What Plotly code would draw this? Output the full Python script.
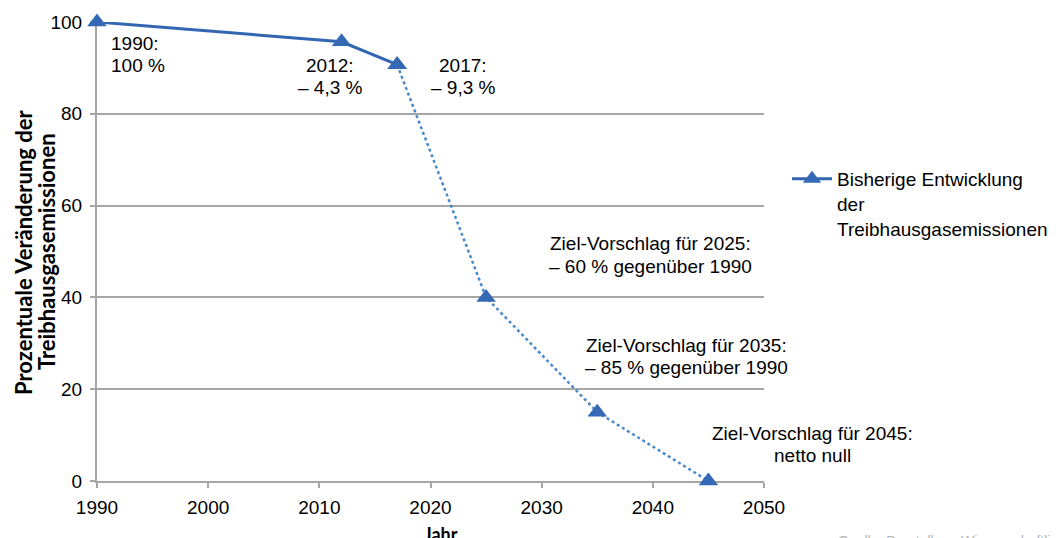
import plotly.graph_objects as go

years_hist = [1990, 2012, 2017]
values_hist = [100, 95.7, 90.7]
years_target = [2017, 2025, 2035, 2045]
values_target = [90.7, 40, 15, 0]
legend_name = "Bisherige Entwicklung<br>der<br>Treibhausgasemissionen"
x_ticks = [1990, 2000, 2010, 2020, 2030, 2040, 2050]
y_ticks = [0, 20, 40, 60, 80, 100]

# page offset of the plotly div (default body margin)
OFF = 8
# plot-area geometry in page pixels
L, R, T, B = 97, 764, 22, 481
PW, PH = 1060, 538
W, H = PW - OFF, PH - OFF

def pap_x(px):
    return (px - L) / (R - L)

def pap_y(py):
    return (B - py) / (B - T)

# text lines in page pixels: (px, py, text, xanchor)
label_lines = [
    (109, 44, "1990:", "left"),
    (109, 66, "100 %", "left"),
    (330, 65, "2012:", "center"),
    (330, 87, "– 4,3 %", "center"),
    (463, 65, "2017:", "center"),
    (463, 87, "– 9,3 %", "center"),
    (650, 244, "Ziel-Vorschlag für 2025:", "center"),
    (650, 266, "– 60 % gegenüber 1990", "center"),
    (686, 345, "Ziel-Vorschlag für 2035:", "center"),
    (686, 367, "– 85 % gegenüber 1990", "center"),
    (812, 433, "Ziel-Vorschlag für 2045:", "center"),
    (812, 455, "netto null", "center"),
]

LINE = "#3366b2"
DOT = "#4a88cc"
MARK = "#3568b5"
GRID = "#a6a6a6"
FONT = "Liberation Sans, Arial, sans-serif"
BFONT = "Lato, Open Sans, sans-serif"
FS = 19

fig = go.Figure()
fig.add_trace(go.Scatter(
    x=years_target, y=values_target, mode="lines+markers",
    line=dict(color=DOT, width=2.5, dash="dot"),
    marker=dict(symbol="triangle-up", size=17, color=MARK),
    showlegend=False, cliponaxis=False,
))
fig.add_trace(go.Scatter(
    x=years_hist, y=values_hist, mode="lines+markers", name=legend_name,
    line=dict(color=LINE, width=3),
    marker=dict(symbol="triangle-up", size=17, color=MARK),
    cliponaxis=False,
))

for px, py, t, xa in label_lines:
    fig.add_annotation(x=pap_x(px), y=pap_y(py), xref="paper", yref="paper", text=t,
                       showarrow=False, xanchor=xa, yanchor="middle",
                       font=dict(family=FONT, size=FS, color="#000000"))

for px, t in [(23, "<b>Prozentuale Veränderung der</b>"), (46, "<b>Treibhausgasemissionen</b>")]:
    fig.add_annotation(text=t, xref="paper", yref="paper", x=pap_x(px), y=pap_y(252),
                       textangle=-90, showarrow=False, xanchor="center", yanchor="middle",
                       font=dict(family=BFONT, size=22, color="#000000"))
fig.add_annotation(text="<b>Jahr</b>", xref="paper", yref="paper",
                   x=pap_x(441), y=pap_y(534), showarrow=False,
                   xanchor="center", yanchor="middle",
                   font=dict(family=BFONT, size=18, color="#000000"))
fig.add_annotation(text="Quelle: Darstellung Wissenschaftliche Dienste", xref="paper", yref="paper",
                   x=pap_x(836), y=pap_y(541), showarrow=False,
                   xanchor="left", yanchor="middle",
                   font=dict(family=FONT, size=14, color="#b4b4b4"))

fig.update_layout(
    width=W, height=H,
    margin=dict(l=L - OFF, r=PW - R, t=T - OFF, b=PH - B, autoexpand=False),
    paper_bgcolor="white", plot_bgcolor="white",
    font=dict(family=FONT, size=FS, color="#000000"),
    legend=dict(x=pap_x(787), y=pap_y(160), xanchor="left", yanchor="top", valign="top",
                font=dict(family=FONT, size=FS), itemwidth=40,
                bgcolor="rgba(0,0,0,0)"),
    xaxis=dict(range=[1990, 2050], tickvals=x_ticks, layer="below traces",
               showgrid=False, zeroline=False, showline=True, linecolor=GRID, linewidth=2,
               ticks="outside", ticklen=5, tickcolor=GRID, tickwidth=1.5,
               ticklabelstandoff=3,
               tickfont=dict(family=FONT, size=FS, color="#000000")),
    yaxis=dict(range=[0, 100], tickvals=y_ticks, layer="below traces",
               showgrid=True, gridcolor=GRID, gridwidth=1.5, zeroline=False,
               showline=True, linecolor=GRID, linewidth=2,
               ticks="outside", ticklen=5, tickcolor=GRID, tickwidth=1.5,
               ticklabelstandoff=4,
               tickfont=dict(family=FONT, size=FS, color="#000000")),
)

fig.write_html("out.html")
